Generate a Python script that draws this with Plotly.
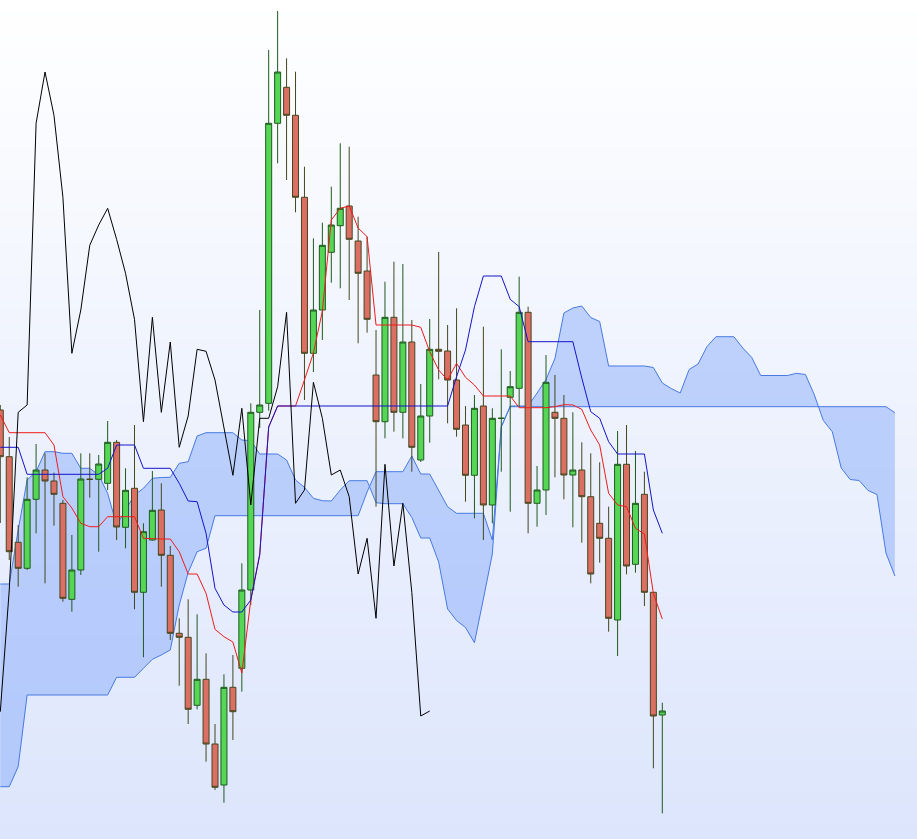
import plotly.graph_objects as go

# ---- candle data (price units), index = bar number ----
opens  = [429, 382.3, 296.7, 270.7, 339.7, 369, 358, 335.7, 239.7, 269,
          359.7, 359.7, 355.7, 396.7, 311.7, 350.7, 246.7, 299, 329, 283.7,
          205.7, 201.7, 133.7, 159.7, 95, 54, 151.7, 170.7, 249, 426.7,
          435.7, 715.7, 751.7, 723.7, 641.7, 485.7, 529, 586.7, 613.3, 633,
          598, 568, 464, 417.3, 521.7, 426.7, 497, 379, 423, 489.7,
          488, 459, 414, 363.7, 433, 334, 420.7, 441.7, 450.7, 526.7,
          335.7, 349, 426.7, 420.7, 364, 369, 342.3, 315.7, 300.7, 219,
          374.7, 274.7, 344.7, 246.7, 124]
highs  = [434, 402, 314, 361.7, 395, 385.7, 366.3, 339, 304, 385.7,
          385.7, 384, 418, 399, 370.7, 414, 315.7, 368, 355.7, 293,
          220.7, 239.7, 224.7, 185.7, 115, 164.7, 184, 275.7, 435.7, 529,
          789, 828, 780.7, 767.3, 672.3, 600.7, 616.3, 652.3, 695.7, 692.3,
          622.3, 602.3, 509, 557.3, 577.3, 575, 519, 455, 520, 587,
          514, 530.7, 433, 444, 512.3, 430.7, 489.7, 468, 562.3, 532.3,
          373, 484, 464, 444, 426.7, 396.7, 385.7, 376.7, 332.3, 408,
          414, 388, 367.3, 246.7, 136.3]
lows   = [316, 279, 252.3, 269, 305.7, 255.7, 313.3, 237.3, 227.3, 264,
          341.3, 287.3, 349, 299, 290.7, 229.7, 181.7, 298.3, 252.3, 199,
          153.3, 115, 129.7, 77.3, 49, 36.3, 99, 147.3, 234, 411,
          428.3, 675.7, 659, 626.7, 439, 467, 499, 556.3, 550.7, 539,
          495.7, 506.3, 332.3, 400.7, 407.3, 400.7, 367.3, 377, 396.3, 459.7,
          415.7, 402.3, 337.3, 320.7, 299, 315.7, 367.3, 327.3, 432.3, 305.7,
          312.3, 324, 361.7, 339.7, 311.7, 296.3, 255.7, 276.3, 207.3, 183,
          264.7, 266.3, 233, 70.7, 25.7]
closes = [382.3, 287.3, 270.7, 339.7, 369, 358, 344.7, 240.7, 269, 360,
          359.7, 375, 396.7, 312, 348.7, 246.7, 307.3, 328.7, 283.7, 205.7,
          201.7, 129.7, 159.7, 95, 51.7, 151.7, 127.3, 249, 426.7, 434,
          715.7, 767, 723.7, 641.7, 485.7, 529, 593.7, 614, 630.7, 599.7,
          565.7, 519.7, 417.3, 521.7, 426.7, 497, 391.7, 423, 489.7, 487.7,
          459, 409.7, 363.7, 430.7, 334, 420.7, 420.7, 452.3, 526.7, 335.7,
          349, 456.7, 420.7, 364, 369, 342.3, 265, 300.7, 220.7, 374.7,
          273, 335.7, 246.7, 123, 128]

# ---- Ichimoku lines ----
tenkan = [424, 406.3, 406.3, 406.3, 406.3, 406.3, 394, 342.3, 331, 315.7,
          312.3, 312.3, 322.3, 322.3, 322.3, 322.3, 300.7, 300, 300, 300,
          287.3, 265, 265, 245.7, 209.7, 202.3, 197, 166, 239, 285,
          412, 433, 433, 433, 459, 486, 528, 619, 630.7, 633,
          611, 602.3, 514, 514, 514, 514, 514, 511.7, 487.3, 469,
          459, 475.7, 461.7, 454, 443, 443, 443, 443, 431.3, 431.3,
          431.3, 431.3, 432.3, 434.3, 434, 429.7, 409, 394, 345.7, 334,
          332.3, 310.7, 305, 245.7, 220]
kijun  = [391.7, 391.7, 391.7, 364.7, 364.7, 364.7, 364.7, 364.7, 364.7, 364.7,
          364.7, 364.7, 370.7, 394, 394, 394, 370.7, 370.7, 370.7, 370.7,
          355.7, 338, 337.3, 305.7, 250.7, 234, 227, 227, 239, 284,
          412, 433, 433, 433, 433, 433, 433, 433, 433, 433,
          433, 433, 433, 433, 433, 433, 433, 433, 433, 433,
          433, 462.3, 489, 532.3, 563, 563, 563, 539.7, 532.3, 497.3,
          497.3, 497.3, 497.3, 497.3, 497.3, 461, 427.3, 420.7, 397.3, 385,
          385, 385, 385, 329, 305.7]
senkou_a = [255, 255, 309, 359, 367.3, 387.3, 387.3, 385.7, 385.7, 370.7,
            370.7, 364, 345.7, 314, 329, 344, 350.7, 360.7, 361.5, 361.7,
            375.7, 377.3, 403, 406.3, 406.3, 406.3, 406.3, 399, 398.3, 385,
            385, 385, 379, 359, 351.7, 340.7, 338.3, 338, 349, 358.3,
            358.3, 358.3, 336.3, 335.3, 335.3, 335.3, 321.5, 301, 301, 277,
            230, 218.5, 211.5, 196.3, 240, 285, 412, 433, 433, 433,
            446, 459.5, 480.5, 526, 531, 533, 521.5, 517.5, 473, 473,
            473, 473, 473, 471.5, 456, 450.5, 446, 469.5, 475, 492.5,
            502.3, 502.3, 502.3, 491, 481.5, 463.5, 463.5, 463.5, 463.5, 465.7,
            464.5, 444, 418.5, 407.3, 371, 359.5, 358.5, 348.5, 344.5, 286,
            263]
senkou_b = [52.3, 52.3, 72.3, 144, 144, 144, 144, 144, 144, 144,
            144, 144, 144, 161.7, 161.7, 161.7, 170.7, 179.7, 184, 189,
            234, 266.5, 287.3, 290.7, 323.3, 323.3, 323.3, 323.3, 323.3, 323.3,
            323.3, 323.3, 323.3, 323.3, 323.3, 323.3, 323.3, 323.3, 323.3, 323.3,
            323.3, 347, 367.3, 367.3, 367.3, 367.3, 383, 365, 365, 349,
            332.3, 325.7, 325.7, 325.7, 325.7, 299, 412.3, 432.3, 432.3, 432.3,
            432.3, 432.3, 432.3, 432.3, 432.3, 432.3, 432.3, 432.3, 432.3, 432.3,
            432.3, 432.3, 432.3, 432.3, 432.3, 432.3, 432.3, 432.3, 432.3, 432.3,
            432.3, 432.3, 432.3, 432.3, 432.3, 432.3, 432.3, 432.3, 432.3, 432.3,
            432.3, 432.3, 432.3, 432.3, 432.3, 432.3, 432.3, 432.3, 432.3, 432.3,
            426.3]

DISPLACEMENT = 26
bars = list(range(len(closes)))
cloud_x = list(range(len(senkou_a)))
chikou_x = bars[:len(closes) - DISPLACEMENT]
chikou_y = closes[DISPLACEMENT:]

X0, X1 = -0.0335, 102.47
Y0, Y1 = 0, 839

fig = go.Figure()

# background gradient (base axes)
fig.add_trace(go.Heatmap(
    x=[X0 - 1, X1 + 1], y=[Y0, Y1], z=[[0, 0], [1, 1]],
    zsmooth="best", showscale=False, hoverinfo="skip",
    colorscale=[[0, "rgb(220,229,252)"], [1, "rgb(255,255,255)"]],
))

# Kumo cloud (base axes, drawn beneath candles)
fig.add_trace(go.Scatter(x=cloud_x, y=senkou_b, mode="lines",
                         line=dict(color="rgb(72,122,226)", width=1),
                         hoverinfo="skip"))
fig.add_trace(go.Scatter(x=cloud_x, y=senkou_a, mode="lines",
                         line=dict(color="rgb(72,122,226)", width=1),
                         fill="tonexty", fillcolor="rgba(120,160,250,0.42)",
                         hoverinfo="skip"))

# candles (overlay axes)
fig.add_trace(go.Candlestick(
    x=bars, open=opens, high=highs, low=lows, close=closes,
    increasing=dict(line=dict(color="#1f5a1f", width=1), fillcolor="#55d655"),
    decreasing=dict(line=dict(color="#45471f", width=1), fillcolor="#dc6f63"),
    whiskerwidth=0, xaxis="x2", yaxis="y2",
))

# Tenkan, Kijun, Chikou (overlay axes)
fig.add_trace(go.Scatter(x=bars, y=tenkan, mode="lines",
                         line=dict(color="#ee1c1c", width=1),
                         xaxis="x2", yaxis="y2"))
fig.add_trace(go.Scatter(x=bars, y=kijun, mode="lines",
                         line=dict(color="#1414c8", width=1),
                         xaxis="x2", yaxis="y2"))
fig.add_trace(go.Scatter(x=chikou_x, y=chikou_y, mode="lines",
                         line=dict(color="#000000", width=1),
                         xaxis="x2", yaxis="y2"))

axis_common = dict(visible=False, showgrid=False, zeroline=False)
fig.update_layout(
    width=917, height=839,
    margin=dict(l=0, r=0, t=0, b=0),
    showlegend=False,
    boxgap=0.33, boxgroupgap=0,
    paper_bgcolor="white", plot_bgcolor="white",
    xaxis=dict(range=[X0, X1], rangeslider=dict(visible=False), **axis_common),
    yaxis=dict(range=[Y0, Y1], **axis_common),
    xaxis2=dict(range=[X0, X1], overlaying="x", rangeslider=dict(visible=False),
                **axis_common),
    yaxis2=dict(range=[Y0, Y1], overlaying="y", **axis_common),
)

fig.write_html("out.html", config={"displayModeBar": False},
               post_script="document.body.style.margin='0';")
